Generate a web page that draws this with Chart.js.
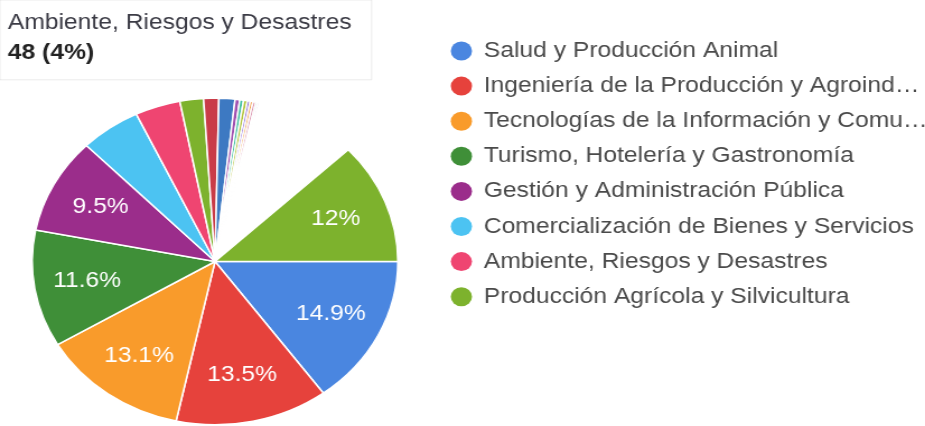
<!DOCTYPE html>
<html lang="es">
<head>
<meta charset="utf-8">
<title>Estudiantes por área</title>
<script src="https://cdn.jsdelivr.net/npm/chart.js@4.4.1/dist/chart.umd.min.js"></script>
<style>
  html, body { margin: 0; padding: 0; background: #fff; overflow: hidden; }
  /* the chart is drawn narrow and widened, so the pie comes out oval */
  #wrap { width: 826px; height: 426px; transform: scaleX(1.1199); transform-origin: 0 0; }
</style>
</head>
<body>
<div id="wrap"><canvas id="areasChart" width="826" height="426"></canvas></div>
<script>
// ── DATA
const areas = [
  "Salud y Producción Animal",
  "Ingeniería de la Producción y Agroindustria",
  "Tecnologías de la Información y Comunicación",
  "Turismo, Hotelería y Gastronomía",
  "Gestión y Administración Pública",
  "Comercialización de Bienes y Servicios",
  "Ambiente, Riesgos y Desastres",
  "Producción Agrícola y Silvicultura",
  "Área 9", "Área 10", "Área 11", "Área 12", "Área 13", "Área 14",
  "Área 15", "Área 16", "Área 17", "Área 18",
  "Otras áreas",
  "Sin área"
];
const students = [179, 162, 157, 139, 114, 64, 48, 25, 16, 17, 5, 4, 4, 3, 3, 3, 2, 2, 109, 144];
const sliceColors = [
  "#4a86e0", "#e6423c", "#f99b2b", "#3f8f38", "#9b2d8b", "#4cc3f2", "#ef4571", "#7db22d",
  "#c93c48", "#3d79c2", "#a04fb0", "#3fbfa0", "#b4c43c", "#8a66d6", "#f2a04c", "#d88aa8",
  "#9fd0c0", "#d8b0dc", "#ffffff", "#7db22d"
];
const legendCount = 8;
const hoveredArea = "Ambiente, Riesgos y Desastres";

const FONT = "Arial, 'Liberation Sans', sans-serif";
const total = students.reduce((sum, v) => sum + v, 0);
const pct = (v) => Math.round((v / total) * 1000) / 10;

Chart.defaults.font.family = FONT;

function fitText(ctx, text, maxWidth) {
  if (ctx.measureText(text).width <= maxWidth) return text;
  let cut = text;
  while (cut.length && ctx.measureText(cut + "…").width > maxWidth) cut = cut.slice(0, -1);
  return cut.trimEnd() + "…";
}

// ── PERCENT LABELS INSIDE THE BIG SLICES
const sliceLabels = {
  id: "sliceLabels",
  afterDatasetsDraw(chart) {
    const ctx = chart.ctx;
    const meta = chart.getDatasetMeta(0);
    ctx.save();
    ctx.font = `22px ${FONT}`;
    ctx.fillStyle = "#ffffff";
    ctx.textAlign = "center";
    ctx.textBaseline = "middle";
    meta.data.forEach((arc, i) => {
      if (sliceColors[i] === "#ffffff" || pct(students[i]) < 9) return;
      const { x, y, startAngle, endAngle, outerRadius } =
        arc.getProps(["x", "y", "startAngle", "endAngle", "outerRadius"], true);
      const mid = (startAngle + endAngle) / 2;
      const r = outerRadius * 0.71;
      ctx.fillText(pct(students[i]) + "%", x + Math.cos(mid) * r, y + Math.sin(mid) * r);
    });
    ctx.restore();
  }
};

// ── LEGEND (first entries only, long names cut)
const sideLegend = {
  id: "sideLegend",
  afterDatasetsDraw(chart) {
    const ctx = chart.ctx;
    const colors = chart.data.datasets[0].backgroundColor;
    ctx.save();
    ctx.font = `22px ${FONT}`;
    ctx.textBaseline = "middle";
    for (let i = 0; i < legendCount; i++) {
      const y = 51 + i * 35.1;
      ctx.fillStyle = colors[i];
      ctx.beginPath();
      ctx.arc(412, y, 9.5, 0, Math.PI * 2);
      ctx.fill();
      ctx.fillStyle = "#4a4a4a";
      ctx.fillText(fitText(ctx, chart.data.labels[i], 398), 432, y);
    }
    ctx.restore();
  }
};

Chart.registry.getPlugin("tooltip").positioners.corner = () => ({ x: 0, y: 0 });

const chart = new Chart(document.getElementById("areasChart"), {
  type: "pie",
  data: {
    labels: areas,
    datasets: [{
      data: students,
      backgroundColor: sliceColors,
      borderColor: "#ffffff",
      borderWidth: 1.5,
      hoverOffset: 0,
      offset: 0,
    }],
  },
  options: {
    responsive: false,
    devicePixelRatio: 1,
    animation: false,
    events: [],
    rotation: 90,
    layout: { padding: { left: 28, right: 470, top: 97, bottom: 0 } },
    plugins: {
      legend: { display: false },
      tooltip: {
        position: "corner",
        xAlign: "left",
        yAlign: "top",
        caretSize: 0,
        caretPadding: 0,
        cornerRadius: 0,
        backgroundColor: "#ffffff",
        borderColor: "rgba(0,0,0,0.08)",
        borderWidth: 1,
        titleColor: "#3b3b45",
        bodyColor: "#222222",
        titleFont: { size: 22, weight: "normal" },
        bodyFont: { size: 22, weight: "bold" },
        titleMarginBottom: 3,
        padding: { top: 10, bottom: 14, left: 7, right: 18 },
        displayColors: false,
        callbacks: {
          title: (items) => items[0].label,
          label: (item) => `${item.raw} (${pct(item.raw)}%)`,
        },
      },
    },
  },
  plugins: [sliceLabels, sideLegend],
});

// tooltip of the pointed slice
chart.tooltip.setActiveElements([{ datasetIndex: 0, index: areas.indexOf(hoveredArea) }], { x: 0, y: 0 });
chart.draw();
</script>
</body>
</html>
